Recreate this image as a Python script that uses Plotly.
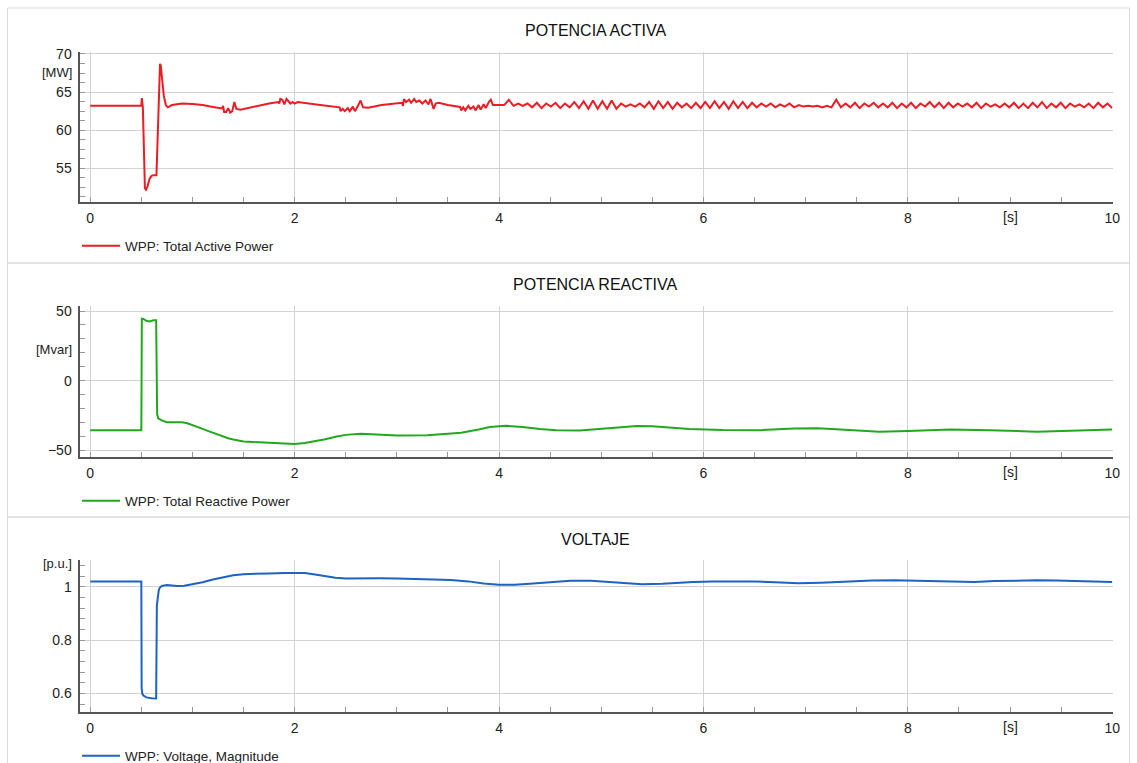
import numpy as np
import plotly.graph_objects as go

# ---------------- DATA ----------------
# Active power [MW] – irregular part (time [s], value)
t_active_early = [0.0, 0.5, 0.505, 0.515, 0.535, 0.545, 0.56, 0.58, 0.60, 0.62, 0.648, 0.655, 0.67, 0.683,
                  0.69, 0.70, 0.72, 0.74, 0.76, 0.80, 0.90, 1.00, 1.10, 1.20, 1.29, 1.30, 1.31, 1.33, 1.35,
                  1.37, 1.39, 1.41, 1.43, 1.47, 1.60, 1.75, 1.84, 1.85, 1.86, 1.88, 1.90, 1.92, 1.94, 1.96,
                  1.98, 2.00, 2.03, 2.10, 2.25, 2.44, 2.45, 2.47, 2.49, 2.52, 2.54, 2.57, 2.59, 2.62, 2.645,
                  2.67, 2.72, 2.85, 3.05, 3.06, 3.07, 3.09, 3.12, 3.14, 3.17, 3.19, 3.22, 3.25, 3.28, 3.31,
                  3.33, 3.36, 3.38, 3.41, 3.50, 3.62, 3.63, 3.65, 3.67, 3.70, 3.72, 3.75, 3.77, 3.80, 3.82,
                  3.85, 3.87, 3.90, 3.92, 3.94, 3.97, 4.00]
p_active_early = [63.2, 63.2, 64.2, 63.0, 52.4, 52.2, 52.6, 53.6, 54.0, 54.1, 54.1, 57.0, 64.0, 68.7,
                  68.5, 67.2, 64.5, 63.3, 63.0, 63.3, 63.5, 63.45, 63.3, 63.05, 62.85, 63.2, 62.4, 62.4, 62.9,
                  62.3, 62.5, 63.7, 62.8, 62.7, 63.1, 63.5, 63.7, 63.5, 64.1, 64.0, 63.4, 64.1, 63.8, 63.5,
                  63.7, 63.5, 63.7, 63.6, 63.3, 63.0, 62.5, 62.8, 62.5, 62.9, 62.5, 63.1, 62.5, 63.2, 63.9,
                  63.0, 62.95, 63.3, 63.6, 63.2, 64.1, 63.7, 64.0, 63.6, 64.1, 63.7, 63.9, 63.5, 63.9, 63.4,
                  64.1, 62.8, 63.5, 63.6, 63.3, 63.05, 62.6, 63.0, 62.6, 63.2, 62.8, 63.1, 62.6, 63.3, 62.7,
                  63.4, 62.9, 63.7, 64.0, 63.3, 63.3, 63.35]
# Active power [MW] – sustained oscillation, sampled evenly from 4.05 s to 10 s
osc_start, osc_end = 4.05, 10.0
p_active_osc = [63.3, 64.0, 63.2, 63.5, 63.2,
                63.5, 63.0, 63.6, 62.9, 63.5, 63.1, 63.6, 62.9, 63.5, 63.0, 63.7, 62.9, 63.8, 62.8,
                63.9, 62.8, 63.8, 62.8, 63.9, 62.8, 63.5, 63.1, 63.4, 63.1,
                63.5, 63.0, 63.7, 62.8, 63.8, 62.9, 63.7, 62.8, 63.6, 63.0, 63.5, 62.9, 63.6, 62.9, 63.7,
                62.9, 63.8, 62.9, 63.7, 62.8, 63.8, 62.9, 63.7, 62.9, 63.6, 63.0, 63.5,
                63.1, 63.5, 63.0, 63.4, 63.1, 63.5, 63.0, 63.3, 63.1, 63.2, 63.1, 63.2, 63.0, 63.2,
                63.0, 64.0, 63.0,
                63.5, 63.0, 63.6, 62.9, 63.5, 63.1, 63.6, 63.0, 63.5, 63.0,
                63.6, 62.9, 63.5, 63.0, 63.6, 62.9, 63.5, 63.1, 63.7, 63.0,
                63.6, 62.9, 63.6, 63.0, 63.5, 63.1, 63.5, 63.0, 63.6, 62.9,
                63.5, 63.1, 63.4, 63.0, 63.5, 63.0, 63.6, 62.9, 63.5, 62.9,
                63.6, 63.0, 63.7, 62.9, 63.5, 63.0, 63.6, 62.9, 63.5, 63.1,
                63.4, 63.0, 63.5, 62.9, 63.6, 63.0, 63.5, 62.9]

# Reactive power [Mvar]
t_reactive = [0.0, 0.5, 0.505, 0.52, 0.55, 0.58, 0.62, 0.645, 0.655, 0.665, 0.70, 0.75, 0.80, 0.85, 0.90,
              0.95, 1.0, 1.05, 1.1, 1.15, 1.2, 1.25, 1.3, 1.35, 1.4, 1.45, 1.5, 1.6, 1.7, 1.8, 1.9, 2.0,
              2.1, 2.2, 2.3, 2.4, 2.5, 2.65, 2.8, 3.0, 3.3, 3.5, 3.63, 3.8, 3.91, 4.07, 4.23, 4.4, 4.56,
              4.79, 5.07, 5.2, 5.35, 5.5, 5.63, 5.86, 6.19, 6.56, 6.89, 7.12, 7.3, 7.49, 7.72, 8.0, 8.2,
              8.42, 8.8, 9.0, 9.26, 9.59, 9.8, 10.0]
q_reactive = [-35.5, -35.5, 44.5, 44.3, 43.0, 42.5, 43.3, 43.4, -24.0, -27.0, -28.5, -29.8, -29.8, -29.6,
              -29.8, -30.6, -31.8, -33.2, -34.6, -36.0, -37.4, -38.8, -40.2, -41.3, -42.2, -43.0, -43.6,
              -44.1, -44.5, -45.0, -45.5, -45.4, -44.8, -43.6, -42.0, -40.2, -38.9, -38.1, -38.7, -39.4,
              -39.1, -38.3, -37.3, -35.0, -33.3, -32.4, -33.2, -34.6, -35.5, -35.8, -34.4, -33.4, -32.6,
              -32.8, -33.5, -34.6, -35.4, -35.5, -34.3, -34.2, -34.8, -35.8, -36.6, -36.2, -35.6, -35.1,
              -35.6, -36.0, -36.6, -36.0, -35.4, -35.0]

# Voltage magnitude [p.u.]
t_voltage = [0.0, 0.5, 0.503, 0.51, 0.52, 0.55, 0.60, 0.645, 0.652, 0.66, 0.67, 0.68, 0.70, 0.75, 0.80,
             0.85, 0.92, 1.0, 1.1, 1.2, 1.3, 1.4, 1.5, 1.6, 1.75, 1.9, 2.0, 2.1, 2.2, 2.3, 2.4, 2.5, 2.65,
             2.83, 3.0, 3.2, 3.4, 3.53, 3.7, 3.85, 4.0, 4.15, 4.3, 4.5, 4.7, 4.9, 5.05, 5.2, 5.4, 5.6, 5.75,
             5.9, 6.09, 6.3, 6.5, 6.7, 6.93, 7.15, 7.4, 7.65, 7.87, 8.15, 8.42, 8.65, 8.85, 9.05, 9.26,
             9.45, 9.6, 9.8, 10.0]
u_voltage = [1.02, 1.02, 0.62, 0.598, 0.592, 0.585, 0.582, 0.581, 0.93, 0.965, 0.985, 0.996, 1.003,
             1.006, 1.004, 1.003, 1.004, 1.009, 1.017, 1.027, 1.036, 1.043, 1.047, 1.049, 1.05, 1.0515,
             1.0525, 1.051, 1.046, 1.0395, 1.034, 1.031, 1.030, 1.0315, 1.031, 1.029, 1.027, 1.025, 1.02,
             1.012, 1.007, 1.007, 1.011, 1.018, 1.0225, 1.022, 1.018, 1.013, 1.009, 1.011, 1.015, 1.018,
             1.02, 1.021, 1.02, 1.017, 1.013, 1.015, 1.02, 1.023, 1.024, 1.022, 1.0175, 1.018, 1.021,
             1.023, 1.024, 1.0235, 1.022, 1.019, 1.0175]

titles = ["POTENCIA ACTIVA", "POTENCIA REACTIVA", "VOLTAJE"]
names = ["WPP: Total Active Power", "WPP: Total Reactive Power", "WPP: Voltage, Magnitude"]
units = ["[MW]", "[Mvar]", "[p.u.]"]
x_unit = "[s]"

# ---------------- FIGURE ----------------
W, H = 1137, 763
FONT = "Liberation Sans, Arial, sans-serif"
RED, GREEN, BLUE = "#ec1c24", "#22a81e", "#1c63c2"
GRID = "#d3d3d3"
AXIS = "#555555"


def px(x):
    return x / W


def py(y):
    return 1 - y / H


t_osc = np.linspace(osc_start, osc_end, len(p_active_osc))
t_active = list(t_active_early) + list(t_osc)
p_active = list(p_active_early) + list(p_active_osc)

fig = go.Figure()
fig.add_trace(go.Scatter(x=t_active, y=p_active, mode="lines", name=names[0], showlegend=True,
                         line=dict(color=RED, width=2), xaxis="x", yaxis="y", legend="legend"))
fig.add_trace(go.Scatter(x=t_reactive, y=q_reactive, mode="lines", name=names[1], showlegend=True,
                         line=dict(color=GREEN, width=2), xaxis="x2", yaxis="y2", legend="legend2"))
fig.add_trace(go.Scatter(x=t_voltage, y=u_voltage, mode="lines", name=names[2], showlegend=True,
                         line=dict(color=BLUE, width=2), xaxis="x3", yaxis="y3", legend="legend3"))

panels = [
    dict(top=51.7, bottom=202.0, title=30, legend=246, ptop=8, pbot=263,
         yrange=[50.58, 70.3], dtick=5, minor=1.25, unit_y=73),
    dict(top=306.0, bottom=457.3, title=285, legend=501, ptop=263, pbot=517,
         yrange=[-55.0, 53.6], dtick=50, minor=10, unit_y=349),
    dict(top=560.0, bottom=712.3, title=539, legend=756, ptop=517, pbot=775,
         yrange=[0.529, 1.1002], dtick=0.2, minor=0.04, unit_y=563),
]

tickfont = dict(family=FONT, size=14, color="#222222")
layout = dict(width=W, height=H, margin=dict(l=0, r=0, t=0, b=0, pad=0, autoexpand=False),
              paper_bgcolor="white", plot_bgcolor="white", showlegend=True,
              font=dict(family=FONT, size=13, color="#222222"),
              annotations=[], shapes=[])

for i, p in enumerate(panels):
    sfx = "" if i == 0 else str(i + 1)
    layout["xaxis" + sfx] = dict(
        domain=[px(79.5), px(1112.5)], range=[-0.105, 10.003], anchor="y" + sfx, automargin=False,
        tick0=0, dtick=2, showgrid=True, gridcolor=GRID, gridwidth=1,
        showline=True, linecolor=AXIS, linewidth=2, zeroline=False,
        ticks="inside", ticklen=5, tickcolor="#999999", tickfont=tickfont,
        ticklabelstandoff=2,
        minor=dict(tick0=0, dtick=0.5, ticks="inside", ticklen=5, tickcolor="#999999", showgrid=False),
        fixedrange=True)
    layout["yaxis" + sfx] = dict(
        domain=[py(p["bottom"]), py(p["top"])], range=p["yrange"], anchor="x" + sfx, automargin=False,
        tick0=0, dtick=p["dtick"], showgrid=True, gridcolor=GRID, gridwidth=1,
        showline=True, linecolor=AXIS, linewidth=2, zeroline=False,
        ticks="inside", ticklen=5, tickcolor="#999999", tickfont=tickfont,
        ticklabelstandoff=3,
        minor=dict(tick0=0, dtick=p["minor"], ticks="inside", ticklen=5, tickcolor="#999999",
                   showgrid=False),
        fixedrange=True)
    lkey = "legend" if i == 0 else "legend" + str(i + 1)
    layout[lkey] = dict(x=px(77), y=py(p["legend"]), xanchor="left", yanchor="middle",
                        bgcolor="rgba(0,0,0,0)", borderwidth=0, itemwidth=38,
                        font=dict(family=FONT, size=13.5, color="#222222"))
    layout["annotations"].append(dict(text=titles[i], x=px(595.5), y=py(p["title"]), xref="paper",
                                      yref="paper", xanchor="center", yanchor="middle", showarrow=False,
                                      font=dict(family=FONT, size=16, color="#111111")))
    layout["annotations"].append(dict(text=units[i], x=px(74), y=py(p["unit_y"]), xref="paper",
                                      yref="paper", xanchor="right", yanchor="middle", showarrow=False,
                                      font=dict(family=FONT, size=13, color="#222222")))
    layout["annotations"].append(dict(text=x_unit, x=9, xref="x" + sfx, y=py(p["bottom"] + 15),
                                      yref="paper", xanchor="center", yanchor="middle", showarrow=False,
                                      font=tickfont))
    layout["shapes"].append(dict(type="rect", xref="paper", yref="paper", x0=px(7.5), x1=px(1129.5),
                                 y0=py(p["pbot"]), y1=py(p["ptop"]),
                                 line=dict(color="#dadada", width=1), fillcolor="rgba(0,0,0,0)",
                                 layer="below"))

fig.update_layout(**layout)
fig.write_html("out.html", config={"displayModeBar": False, "staticPlot": True})
